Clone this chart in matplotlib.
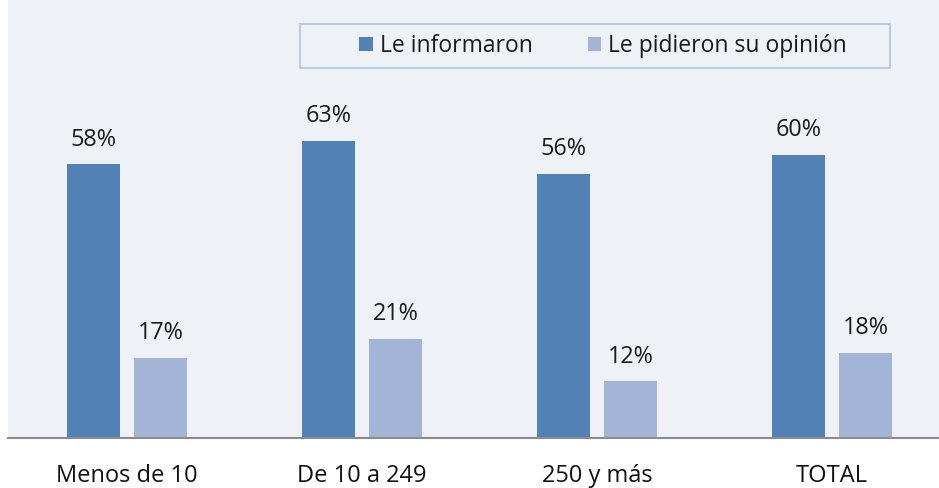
import matplotlib
matplotlib.use("Agg")
import matplotlib.pyplot as plt
from matplotlib.patches import Rectangle
import numpy as np

categories = ["Menos de 10", "De 10 a 249", "250 y más", "TOTAL"]
informaron = [58, 63, 56, 60]
opinion = [17, 21, 12, 18]
series_names = ["Le informaron", "Le pidieron su opinión"]

plt.rcParams['font.family'] = ['Open Sans', 'DejaVu Sans']

BLUE = "#5181b5"
LIGHT = "#a3b5d6"
BG = "#eef2f6"

fig = plt.figure(figsize=(9.39, 4.88), dpi=100, facecolor="white")
ax = fig.add_axes([8/939, (488-438)/488, (939-8)/939, 438/488])
ax.set_facecolor(BG)

x = np.arange(len(categories))
w = 0.225
off = 0.143
b1 = ax.bar(x - off, informaron, w, color=BLUE, label=series_names[0])
b2 = ax.bar(x + off, opinion, w, color=LIGHT, label=series_names[1])

ax.set_xlim(-0.506, 3.455)
ax.set_ylim(0, 92.8)
for s in ["top", "right", "left"]:
    ax.spines[s].set_visible(False)
ax.spines["bottom"].set_color("#8c8c8c")
ax.spines["bottom"].set_linewidth(1.5)
ax.set_yticks([])
ax.set_xticks([])

for bars, vals in ((b1, informaron), (b2, opinion)):
    for rect, v in zip(bars, vals):
        ax.annotate(f"{v}%", xy=(rect.get_x() + rect.get_width()/2, v),
                    xytext=(0, 13.5), textcoords="offset points",
                    ha="center", va="baseline", fontsize=16.8, color="#1a1a1a")

for i, c in enumerate(categories):
    ax.annotate(c, xy=(i, 0), xycoords=("data", "axes fraction"),
                xytext=(0, -31.7), textcoords="offset points",
                ha="center", va="baseline", fontsize=17, color="#111111",
                annotation_clip=False)

# legend frame
fig.patches.append(Rectangle((300/939, (488-68)/488), 590/939, 44/488,
                             transform=fig.transFigure, facecolor=BG,
                             edgecolor="#b9cbe3", linewidth=1.5, zorder=2))
leg = fig.legend(handles=[b1, b2], loc="center",
                 bbox_to_anchor=(603/939, (488-46)/488), ncol=2,
                 frameon=False, fontsize=16.5, handlelength=0.6,
                 handleheight=0.6, handletextpad=0.3, columnspacing=2.4)
for t in leg.get_texts():
    t.set_color("#1a1a1a")

fig.savefig("out.png", dpi=100, facecolor="white")
